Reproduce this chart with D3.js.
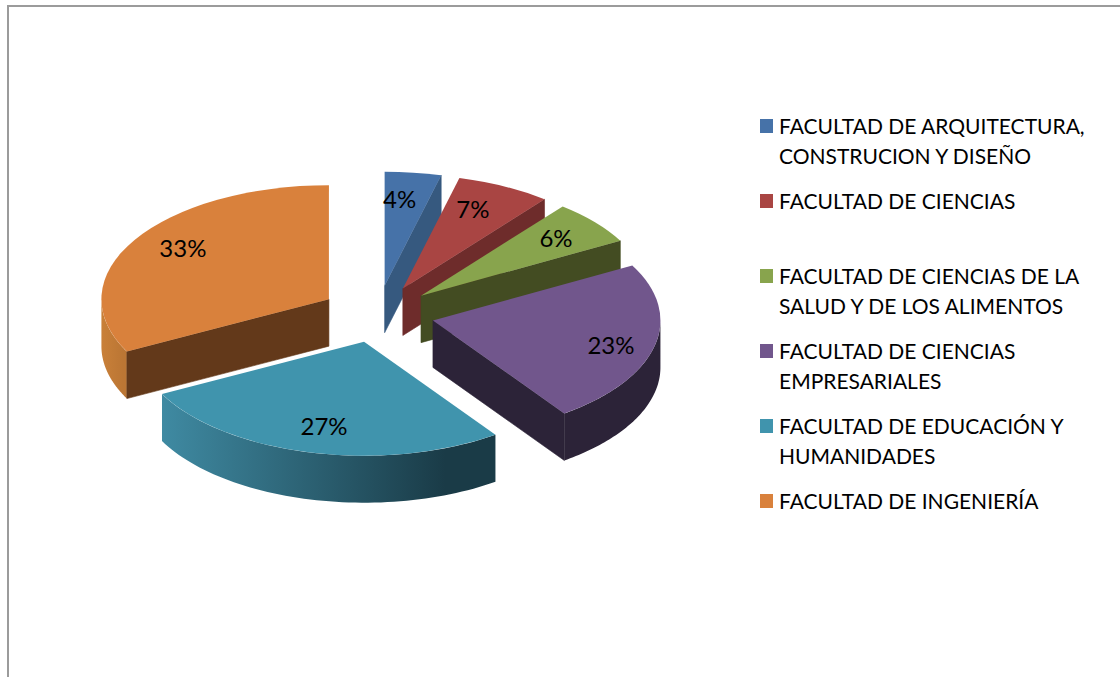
<!DOCTYPE html>
<html>
<head>
<meta charset="utf-8">
<script src="https://cdn.jsdelivr.net/npm/d3@7"></script>
<style>
  html, body { margin: 0; padding: 0; background: #fff; }
  svg { display: block; }
  text { font-family: Lato, "Open Sans", sans-serif; fill: #000; }
</style>
</head>
<body>
<svg id="chart"></svg>
<script>
// values, the labels show them rounded
const categories = [
    ['FACULTAD DE ARQUITECTURA,', 'CONSTRUCION Y DISEÑO'],
    ['FACULTAD DE CIENCIAS'],
    ['FACULTAD DE CIENCIAS DE LA', 'SALUD Y DE LOS ALIMENTOS'],
    ['FACULTAD DE CIENCIAS', 'EMPRESARIALES'],
    ['FACULTAD DE EDUCACIÓN Y', 'HUMANIDADES'],
    ['FACULTAD DE INGENIERÍA']
]
const percentages = [4, 6.7, 6.3, 23.2, 27.2, 32.6]
const topColors = ['#4672a8', '#a94543', '#88a44d', '#71568c', '#4094ad', '#d9813c']
const wallColors = ['#36597f', '#6e2c2b', '#434c22', '#2c2338', '#1a3b47', '#63391a']
const rimLeftColors = ['#36597f', '#6e2c2b', '#434c22', '#2c2338', '#3f8aa2', '#c98039']
const rimRightColors = ['#36597f', '#6e2c2b', '#434c22', '#2c2338', '#1a3b47', '#bb7634']
// label offset from the slice's own apex
const labelOffsets = [[15, -86], [70, -79], [135, -57], [178, 25], [-40, 85], [-146, -51]]

const width = 1120
const height = 677
const cx = 377.5
const cy = 314
const rx = 227.5
const ry = 114
const depth = 47
const explode = 0.25

const svg = d3.select('#chart').attr('width', width).attr('height', height)
const defs = svg.append('defs')

// frame of the document
svg.append('path')
    .attr('d', `M8,${height} V6 H${width}`)
    .attr('fill', 'none')
    .attr('stroke', '#9b9b9b')
    .attr('stroke-width', 2)

const pie = d3.pie().sort(null).value((d) => d)
const arc = d3.arc().innerRadius(0).outerRadius(rx)
const pct = d3.format('.0f')

const slices = pie(percentages).map((s, i) => {
    const mid = (s.startAngle + s.endAngle) / 2
    return {
        ...s,
        i,
        x: cx + Math.sin(mid) * rx * explode,
        y: cy - Math.cos(mid) * ry * explode
    }
})

// point on the ellipse of a slice
const px = (s, a) => s.x + Math.sin(a) * rx
const py = (s, a) => s.y - Math.cos(a) * ry

const line = d3.line()

function wall(s, a) {
    return line([
        [s.x, s.y],
        [px(s, a), py(s, a)],
        [px(s, a), py(s, a) + depth],
        [s.x, s.y + depth]
    ]) + 'Z'
}

function rim(s, a0, a1) {
    const steps = d3.range(0, 61).map((k) => a0 + (a1 - a0) * k / 60)
    const upper = steps.map((a) => [px(s, a), py(s, a)])
    const lower = steps.slice().reverse().map((a) => [px(s, a), py(s, a) + depth])
    return line(upper.concat(lower)) + 'Z'
}

// back slices first so the nearer ones paint over them
const order = slices.slice().sort((a, b) => d3.ascending(a.y, b.y))

const groups = svg.selectAll('g.slice')
    .data(order)
    .join('g')
    .attr('class', 'slice')

groups.each(function (s) {
    const g = d3.select(this)

    // outer rim, only the front half of the ellipse shows
    const a0 = Math.max(s.startAngle, Math.PI / 2)
    const a1 = Math.min(s.endAngle, Math.PI * 1.5)
    if (a1 > a0) {
        const id = 'rim' + s.i
        const grad = defs.append('linearGradient')
            .attr('id', id)
            .attr('gradientUnits', 'userSpaceOnUse')
            .attr('x1', d3.min([px(s, a0), px(s, a1)]))
            .attr('x2', d3.max([px(s, a0), px(s, a1)]))
            .attr('y1', 0)
            .attr('y2', 0)
        grad.append('stop').attr('offset', 0).attr('stop-color', rimLeftColors[s.i])
        grad.append('stop').attr('offset', 0.85).attr('stop-color', rimRightColors[s.i])
        g.append('path').attr('d', rim(s, a0, a1)).attr('fill', `url(#${id})`)
    }

    // cut faces that look towards the viewer, stroked so no seam shows at the rim
    if (Math.sin(s.startAngle) < 0) {
        g.append('path').attr('d', wall(s, s.startAngle))
            .attr('fill', wallColors[s.i])
            .attr('stroke', wallColors[s.i])
            .attr('stroke-width', 0.6)
    }
    if (Math.sin(s.endAngle) > 0) {
        g.append('path').attr('d', wall(s, s.endAngle))
            .attr('fill', wallColors[s.i])
            .attr('stroke', wallColors[s.i])
            .attr('stroke-width', 0.6)
    }

    // top face
    g.append('path')
        .attr('d', arc(s))
        .attr('transform', `translate(${s.x},${s.y}) scale(1,${ry / rx})`)
        .attr('fill', topColors[s.i])
})

// percentage labels on top of everything
svg.selectAll('text.pct')
    .data(slices)
    .join('text')
    .attr('class', 'pct')
    .attr('x', (s) => s.x + labelOffsets[s.i][0])
    .attr('y', (s) => s.y + labelOffsets[s.i][1])
    .attr('dy', '0.36em')
    .attr('text-anchor', 'middle')
    .attr('font-size', 24)
    .text((s) => pct(percentages[s.i]) + '%')

// legend
const legendY = d3.scaleLinear().domain([0, 5]).range([126, 501])
const legend = svg.selectAll('g.legend')
    .data(categories)
    .join('g')
    .attr('class', 'legend')
    .attr('transform', (d, i) => `translate(760,${legendY(i)})`)

legend.append('rect')
    .attr('x', 0)
    .attr('y', -7)
    .attr('width', 13)
    .attr('height', 14)
    .attr('fill', (d, i) => topColors[i])

legend.selectAll('text')
    .data((d) => d)
    .join('text')
    .attr('x', 19)
    .attr('y', (d, i) => i * 30)
    .attr('dy', '0.36em')
    .attr('font-size', 21)
    .text((d) => d)
</script>
</body>
</html>
